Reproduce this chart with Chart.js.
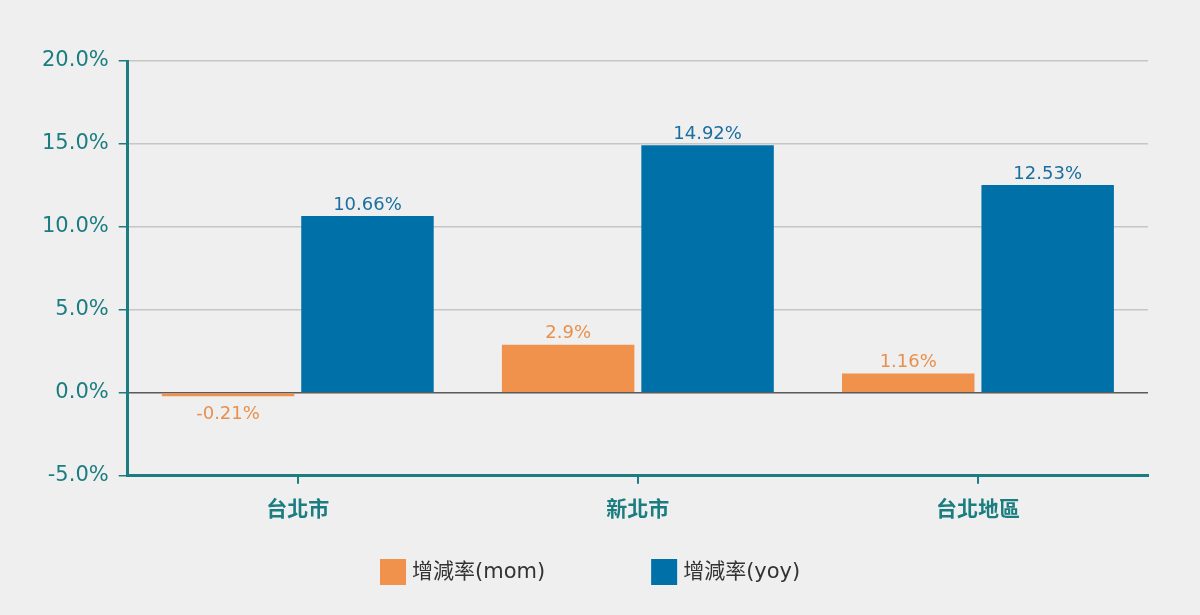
<!DOCTYPE html>
<html>
<head>
<meta charset="utf-8">
<script src="https://cdn.jsdelivr.net/npm/chart.js@4"></script>
<style>
  html, body { margin: 0; padding: 0; background: #efefef; }
  #wrap { width: 1200px; height: 615px; }
</style>
</head>
<body>
<div id="wrap"><canvas id="myChart" width="1200" height="615"></canvas></div>
<script>
// categories and series
const labels = ["台北市", "新北市", "台北地區"];
const momValues = [-0.21, 2.9, 1.16];
const yoyValues = [10.66, 14.92, 12.53];
const yTicks = [-5, 0, 5, 10, 15, 20];

const teal = "#1b7d80";
const orange = "#f0924c";
const blue = "#0070a8";
const textFont = "'DejaVu Sans', 'Noto Sans CJK TC', sans-serif";

// value labels above (or below) each bar
const valueLabels = {
    id: "valueLabels",
    afterDatasetsDraw(chart) {
        const ctx = chart.ctx;
        ctx.save();
        ctx.font = "18px " + textFont;
        ctx.textAlign = "center";
        chart.data.datasets.forEach((ds, i) => {
            chart.getDatasetMeta(i).data.forEach((bar, j) => {
                const v = ds.data[j];
                ctx.fillStyle = ds.labelColor;
                if (v >= 0) {
                    ctx.textBaseline = "bottom";
                    ctx.fillText(v + "%", bar.x, bar.y - 2);
                } else {
                    ctx.textBaseline = "top";
                    ctx.fillText(v + "%", bar.x, bar.y + 9);
                }
            });
        });
        ctx.restore();
    },
};

// legend at the bottom, with wide spacing between the two items
const bottomLegend = {
    id: "bottomLegend",
    afterDraw(chart) {
        const ctx = chart.ctx;
        ctx.save();
        ctx.font = "21px " + textFont;
        ctx.textBaseline = "middle";
        ctx.textAlign = "left";
        let x = chart.width / 2 - 220;
        const y = 559;
        chart.data.datasets.forEach((ds) => {
            ctx.fillStyle = ds.backgroundColor;
            ctx.fillRect(x, y, 26, 26);
            ctx.fillStyle = "#333333";
            ctx.fillText(ds.label, x + 32, y + 14);
            x += 32 + ctx.measureText(ds.label).width + 106;
        });
        ctx.restore();
    },
};

const data = {
    labels: labels,
    datasets: [
        {
            label: "增減率(mom)",
            data: momValues,
            backgroundColor: orange,
            labelColor: "#e8904e",
            categoryPercentage: 0.82,
            barPercentage: 0.95,
        },
        {
            label: "增減率(yoy)",
            data: yoyValues,
            backgroundColor: blue,
            labelColor: "#1a6fa0",
            categoryPercentage: 0.82,
            barPercentage: 0.95,
        },
    ],
};

const config = {
    type: "bar",
    data: data,
    plugins: [valueLabels, bottomLegend],
    options: {
        responsive: false,
        animation: false,
        layout: { padding: { left: 32, right: 52, top: 61, bottom: 82 } },
        scales: {
            y: {
                min: -5,
                max: 20,
                afterBuildTicks: (axis) => { axis.ticks = yTicks.map((v) => ({ value: v })); },
                border: { color: teal, width: 3 },
                grid: {
                    color: (c) => (c.tick && c.tick.value === 0 ? "#5a5a5a" : "#c6c6c6"),
                    lineWidth: 1.5,
                    tickColor: teal,
                    tickLength: 9,
                },
                ticks: {
                    color: teal,
                    padding: 10,
                    font: { family: textFont, size: 21 },
                    callback: (v) => v.toFixed(1) + "%",
                },
            },
            x: {
                border: { color: teal, width: 3 },
                grid: {
                    offset: false,
                    drawOnChartArea: false,
                    tickColor: teal,
                    tickLength: 8,
                    lineWidth: 2,
                },
                ticks: {
                    color: teal,
                    padding: 12,
                    font: { family: "'Noto Sans CJK TC', sans-serif", size: 21, weight: "bold" },
                },
            },
        },
        plugins: {
            legend: { display: false },
            tooltip: { enabled: false },
        },
    },
};

const myChart = new Chart(document.getElementById("myChart"), config);
</script>
</body>
</html>
